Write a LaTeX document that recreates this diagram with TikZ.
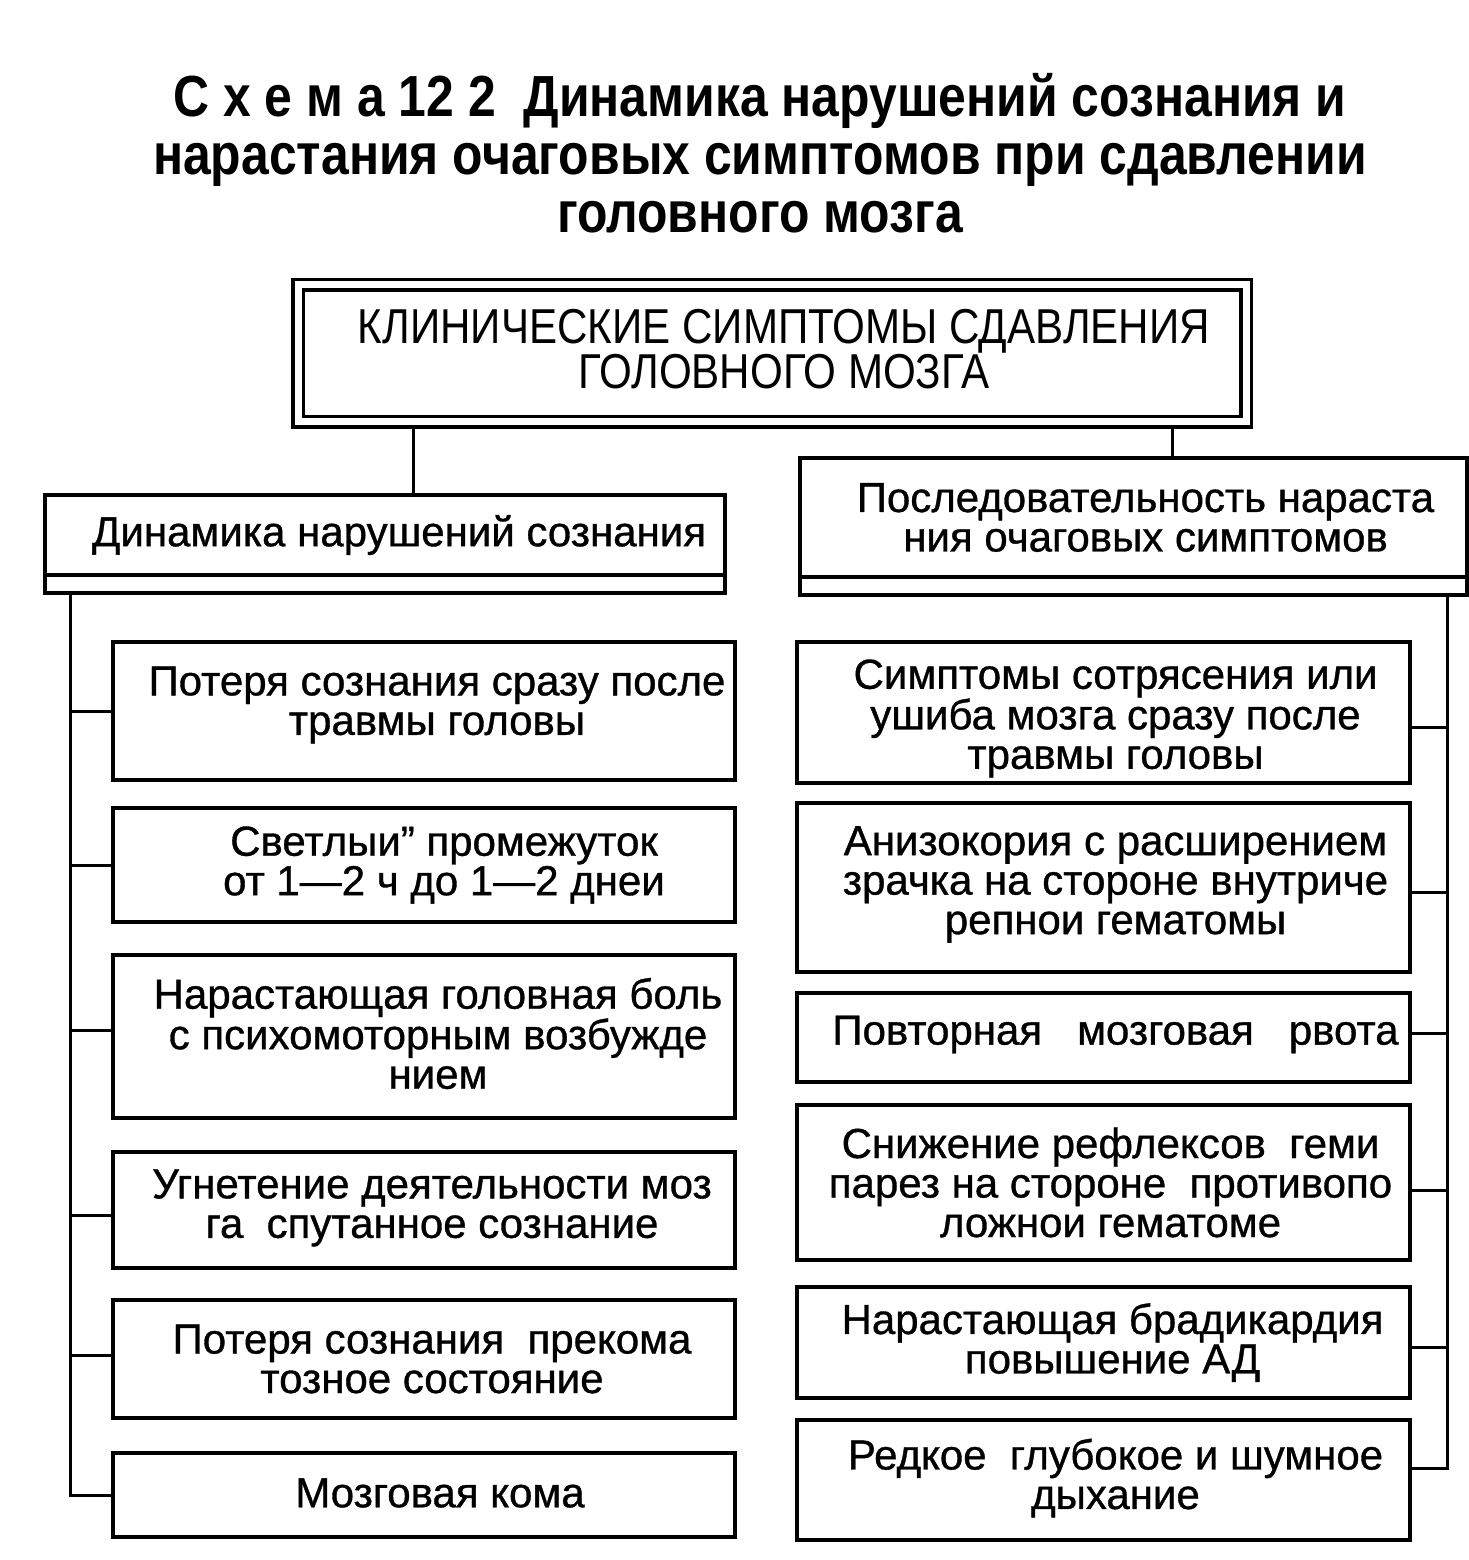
\documentclass[tikz,border=0pt]{standalone}
\usepackage{fontspec}
\setmainfont{Liberation Sans}[FakeBold=0.8]
\newfontfamily\condfont[FakeStretch=0.86]{Liberation Sans}
\begin{document}
\begin{tikzpicture}[x=1pt,y=-1pt,
  box/.style={draw,line width=3.5pt,inner sep=0pt,outer sep=0pt},
  lbox/.style={box,minimum width=622},
  rbox/.style={box,minimum width=613},
  txt/.style={inner sep=0pt,align=center,font=\fontsize{42}{39.5}\selectfont},
  conn/.style={line width=3pt}]
\useasboundingbox[fill=white] (0,0) rectangle (1469,1560);
% title
\node[font=\condfont\bfseries\fontsize{58}{58}\selectfont,align=center,inner sep=0pt] (title) at (760,153)
  {С х е м а 12 2\ \ Динамика нарушений сознания и\\нарастания очаговых симптомов при сдавлении\\головного мозга};
% top box
\node[draw,double,line width=3.5pt,double distance=7pt,outer sep=7pt,inner sep=0pt,
  minimum width=948,minimum height=137] (top) at (772,353) {};
\node[inner sep=0pt,align=center,font=\condfont\fontsize{49}{38}\selectfont] (toptxt)
  at ([xshift=12pt,yshift=4pt]top.center) {КЛИНИЧЕСКИЕ СИМПТОМЫ СДАВЛЕНИЯ\\ГОЛОВНОГО МОЗГА};
% headers
\node[box,minimum width=680,minimum height=80] (lh) at (385,535) {};
\node[txt] (lht) at ([xshift=14pt]lh.center) {Динамика нарушений сознания};
\draw[line width=3.5pt] (lh.south west) -- ++(0,18) coordinate (lhs) -- ++(680,0) -- (lh.south east);
\node[box,minimum width=667,minimum height=119] (rh) at (1133.5,517.5) {};
\node[txt] (rht) at ([xshift=12pt]rh.center) {Последовательность нараста\\ния очаговых симптомов};
\draw[line width=3.5pt] (rh.south west) -- ++(0,18) coordinate (rhs) -- ++(667,0) -- (rh.south east);
% left boxes
\node[lbox,minimum height=138] (l1) at (424,711) {};
\node[txt] (t1) at ([xshift=13pt,yshift=6pt]l1.center) {Потеря сознания сразу после\\травмы головы};
\node[lbox,minimum height=114] (l2) at (424,865) {};
\node[txt] (t2) at ([xshift=20pt]l2.center) {Светлыи" промежуток\\от 1—2 ч до 1—2 днеи};
\node[lbox,minimum height=163] (l3) at (424,1036.5) {};
\node[txt] (t3) at ([xshift=14pt,yshift=3pt]l3.center) {Нарастающая головная боль\\с психомоторным возбужде\\нием};
\node[lbox,minimum height=116] (l4) at (424,1210) {};
\node[txt] (t4) at ([xshift=8pt,yshift=2pt]l4.center) {Угнетение деятельности моз\\га\ \ спутанное сознание};
\node[lbox,minimum height=118] (l5) at (424,1359) {};
\node[txt] (t5) at ([xshift=8pt]l5.center) {Потеря сознания\ \ прекома\\тозное состояние};
\node[lbox,minimum height=84] (l6) at (424,1495) {};
\node[txt] (t6) at ([xshift=16pt,yshift=2pt]l6.center) {Мозговая кома};
% right boxes
\node[rbox,minimum height=141] (r1) at (1103.5,712.5) {};
\node[txt] (u1) at ([xshift=12pt,yshift=-6pt]r1.center) {Симптомы сотрясения или\\ушиба мозга сразу после\\травмы головы};
\node[rbox,minimum height=169] (r2) at (1103.5,887.5) {};
\node[txt] (u2) at ([xshift=12pt,yshift=3pt]r2.center) {Анизокория с расширением\\зрачка на стороне внутриче\\репнои гематомы};
\node[rbox,minimum height=89] (r3) at (1103.5,1037.5) {};
\node[txt] (u3) at ([xshift=12pt,yshift=3pt]r3.center) {Повторная\ \ \ мозговая\ \ \ рвота};
\node[rbox,minimum height=155] (r4) at (1103.5,1182.5) {};
\node[txt] (u4) at ([xshift=7pt]r4.center) {Снижение рефлексов\ \ геми\\парез на стороне\ \ противопо\\ложнои гематоме};
\node[rbox,minimum height=111] (r5) at (1103.5,1342.5) {};
\node[txt] (u5) at ([xshift=9pt]r5.center) {Нарастающая брадикардия\\повышение АД};
\node[rbox,minimum height=120] (r6) at (1103.5,1480) {};
\node[txt] (u6) at ([xshift=12pt,yshift=2pt]r6.center) {Редкое\ \ глубокое и шумное\\дыхание};
% connectors
\coordinate (lx) at (413,0);
\coordinate (rx) at (1172,0);
\coordinate (lb) at (70,0);
\coordinate (rb) at (1447,0);
\draw[conn] (top.south -| lx) -- (lh.north -| lx);
\draw[conn] (top.south -| rx) -- (rh.north -| rx);
\draw[conn] (lhs -| lb) |- (l6.west);
\foreach \n/\s in {1/0,2/0,3/6,4/-5,5/4}
  \draw[conn] ([yshift=\s pt]l\n.west) -- ([yshift=\s pt]l\n.west -| lb);
\draw[conn] (rhs -| rb) |- ([yshift=12pt]r6.east);
\foreach \n/\s in {1/-14.5,2/-4.5,3/4.5,4/-7.5,5/-4.5}
  \draw[conn] ([yshift=\s pt]r\n.east) -- ([yshift=\s pt]r\n.east -| rb);
\end{tikzpicture}
\end{document}
